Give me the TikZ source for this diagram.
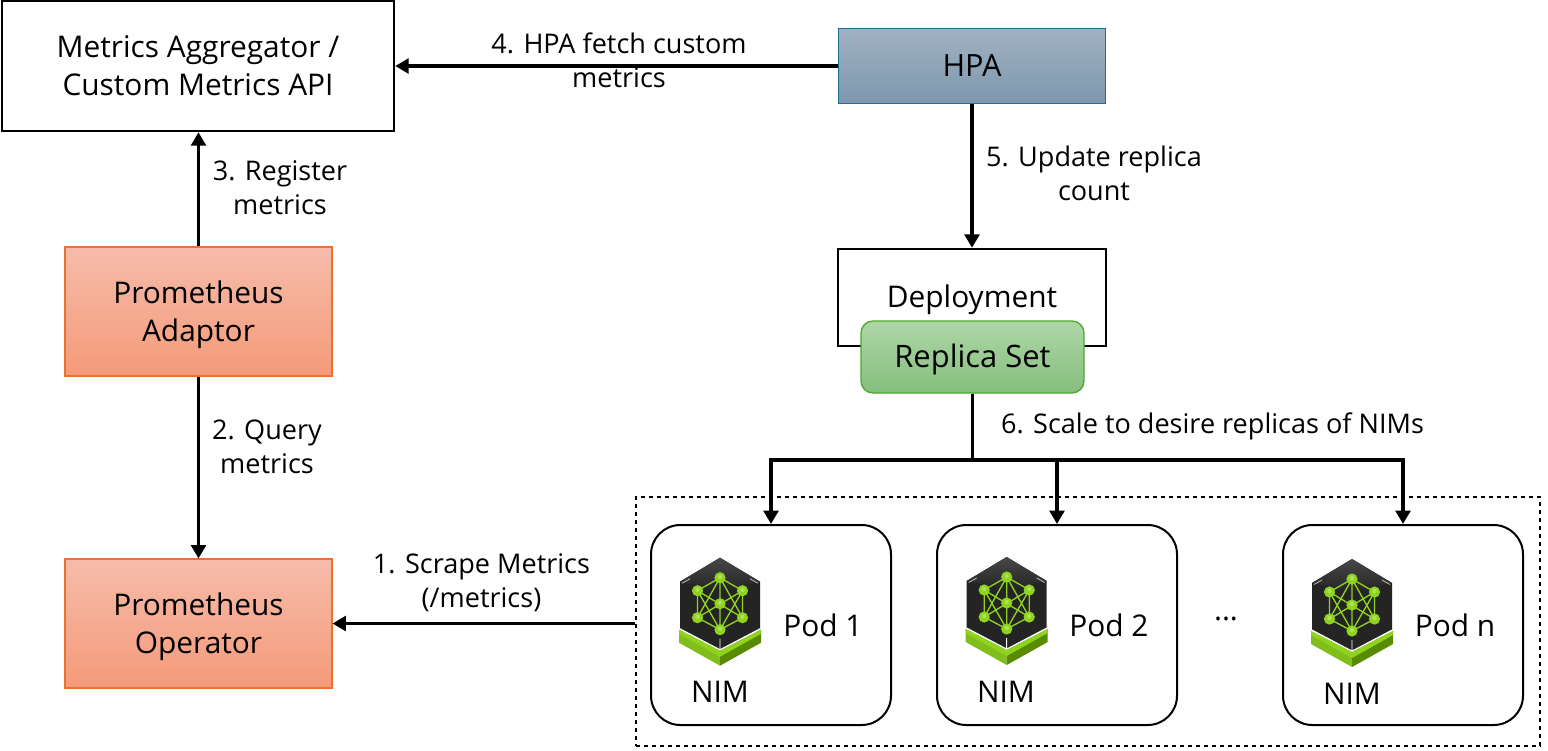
\documentclass[tikz,border=0pt]{standalone}
\usepackage{fontspec}
\setmainfont{Open Sans}
\usetikzlibrary{arrows.meta,positioning,calc}
\definecolor{nimgreen}{HTML}{76B900}
\definecolor{nimlime}{HTML}{8FD31E}
\definecolor{promb}{HTML}{E97132}
\definecolor{promt}{HTML}{F6BCAA}
\definecolor{promc}{HTML}{F49A79}
\definecolor{hpab}{HTML}{1F6F94}
\definecolor{hpat}{HTML}{A0B2C2}
\definecolor{hpac}{HTML}{7D97AD}
\definecolor{rsb}{HTML}{4EA72E}
\definecolor{rst}{HTML}{ADD7A6}
\definecolor{rsc}{HTML}{86BE7E}
\newcommand{\dn}{\rule{0pt}{21.5pt}}
\tikzset{
  x=0.75pt,y=-0.75pt,
  box/.style={draw=black,line width=1.9pt,fill=white,inner sep=0pt,align=center,font=\fontsize{22.4}{28.5}\selectfont},
  promnode/.style={inner sep=0pt,align=center,font=\fontsize{22.4}{28.5}\selectfont,draw=promb,line width=0.8pt,top color=promt,bottom color=promc,minimum width=267*0.75pt,minimum height=129*0.75pt},
  pod/.style={draw=black,line width=1.5pt,rounded corners=22pt,fill=white,minimum width=240*0.75pt,minimum height=200*0.75pt,inner sep=0pt},
  conn/.style={line width=2.6pt,-{Triangle[width=11pt,length=10pt]}},
  linkline/.style={line width=2.6pt},
  lab/.style={inner sep=0pt,align=center,font=\fontsize{20.3}{25.5}\selectfont},
  big/.style={inner sep=0pt,font=\fontsize{22.4}{28}\selectfont},
}
\newcommand{\nimicon}[2]{%
\begin{scope}[shift={(#1,#2)}]
  % green base
  \fill[nimlime!90!black] (-41,79) -- (0,100) -- (0,115) -- (-41,92) -- cycle;
  \fill[nimgreen!75!black] (41,79) -- (0,100) -- (0,115) -- (41,92) -- cycle;
  \fill[nimlime] (-41,79) -- (0,100) -- (41,79) -- (41,83) -- (0,106) -- (-41,83) -- cycle;
  % cube
  \fill[black!86] (0,7) -- (40,31) -- (40,78) -- (0,99) -- (-40,78) -- (-40,31) -- cycle;
  \shade[top color=black!72,bottom color=black!86] (0,7) -- (40,31) -- (0,40) -- (-40,31) -- cycle;
  \draw[white,line width=0.7pt] (-40,78) -- (0,99) -- (40,78) (0,99) -- (0,88);
  \draw[black!25,line width=0.6pt] (-38,32.5) -- (-30,28) (38,32.5) -- (30,28);
  \draw[nimlime,line width=1pt]
    (0,27) -- (-22.5,40) -- (-22.5,67) (0,27) -- (22.5,40) -- (22.5,67)
    (0,79) -- (-22.5,67) (0,79) -- (22.5,67) (0,27) -- (0,79)
    (-22.5,40) -- (22.5,67) (22.5,40) -- (-22.5,67)
    (-22.5,40) -- (0,79) (22.5,40) -- (0,79) (0,27) -- (-22.5,67) (0,27) -- (22.5,67);
  \foreach \px/\py in {0/27,-22.5/40,22.5/40,0/53,-22.5/67,22.5/67,0/79}{
    \fill[nimlime] (\px,\py) circle (4.2pt);
    \fill[nimlime!70!white] (\px,\py-1) circle (1.6pt);}
\end{scope}}
\begin{document}
\begin{tikzpicture}
\useasboundingbox (0,0) rectangle (1548,750);
\fill[white] (0,0) rectangle (1548,750);

\node[box,minimum width=392*0.75pt,minimum height=130*0.75pt] (agg) at (198,66) {Metrics Aggregator /\\Custom Metrics API};
\node[promnode] (adaptor) at (198.5,311.5) {\dn Prometheus\\Adaptor};
\node[promnode] (operator) at (198.5,623.5) {\dn Prometheus\\Operator};
\node[draw=hpab,line width=0.8pt,top color=hpat,bottom color=hpac,minimum width=267*0.75pt,minimum height=75*0.75pt,inner sep=0pt,font=\fontsize{23}{28}\selectfont] (hpa) at (972,66) {HPA};
\node[box,minimum width=268*0.75pt,minimum height=97*0.75pt] (dep) at (972,297.5) {};
\node[big,anchor=center] (deplabel) at (972,300) {Deployment};
\node[draw=rsb,line width=1pt,rounded corners=9pt,top color=rst,bottom color=rsc,minimum width=223*0.75pt,minimum height=72*0.75pt,inner sep=0pt,font=\fontsize{23.2}{28}\selectfont] (rs) at (972.5,357) {\rule{0pt}{22pt}Replica Set};

\node[draw=black,dashed,line width=0.9pt,minimum width=904*0.75pt,minimum height=249*0.75pt,inner sep=0pt] (nims) at (1088,621.5) {};

\node[pod] (pod1) at (771,625) {};
\node[pod] (pod2) at (1057,625) {};
\node[pod] (podn) at (1403,625) {};

\nimicon{720}{550.7}
\nimicon{1006.7}{550}
\nimicon{1352}{552}

\node[big] (t1) at (823,625) {Pod 1};
\node[big] (t2) at (1109,625) {Pod 2};
\node[big] (tn) at (1455,625) {Pod n};
\node[big] (n1) at (720,692) {NIM};
\node[big] (n2) at (1006,692) {NIM};
\node[big] (nn) at (1352,694) {NIM};
\node[big] (dots) at (1226,619) {...};

\draw[conn] (hpa.west) -- (agg.east);
\draw[conn] (hpa.south) -- (dep.north);
\draw[conn] (adaptor.north) -- (agg.south -| adaptor.north);
\draw[conn] (adaptor.south) -- (operator.north);
\draw[conn] (nims.west |- operator.east) -- (operator.east);
\coordinate (branch) at (972.5,460);
\draw[linkline] (rs.south) -- (branch);
\draw[conn] (branch) -| (pod1.north);
\draw[conn] (branch) -| (pod2.north);
\draw[conn] (branch) -| (podn.north);

\node[lab] (l1) at (481.5,583) {1. Scrape Metrics\\(/metrics)};
\node[lab] (l2) at (267,447) {2. Query\\metrics};
\node[lab] (l3) at (280,188) {3. Register\\metrics};
\node[lab] (l4) at (619,60) {4. HPA fetch custom\\metrics};
\node[lab] (l5) at (1094,173) {5. Update replica\\count};
\node[lab] (l6) at (1212.5,426) {6. Scale to desire replicas of NIMs};
\end{tikzpicture}
\end{document}
